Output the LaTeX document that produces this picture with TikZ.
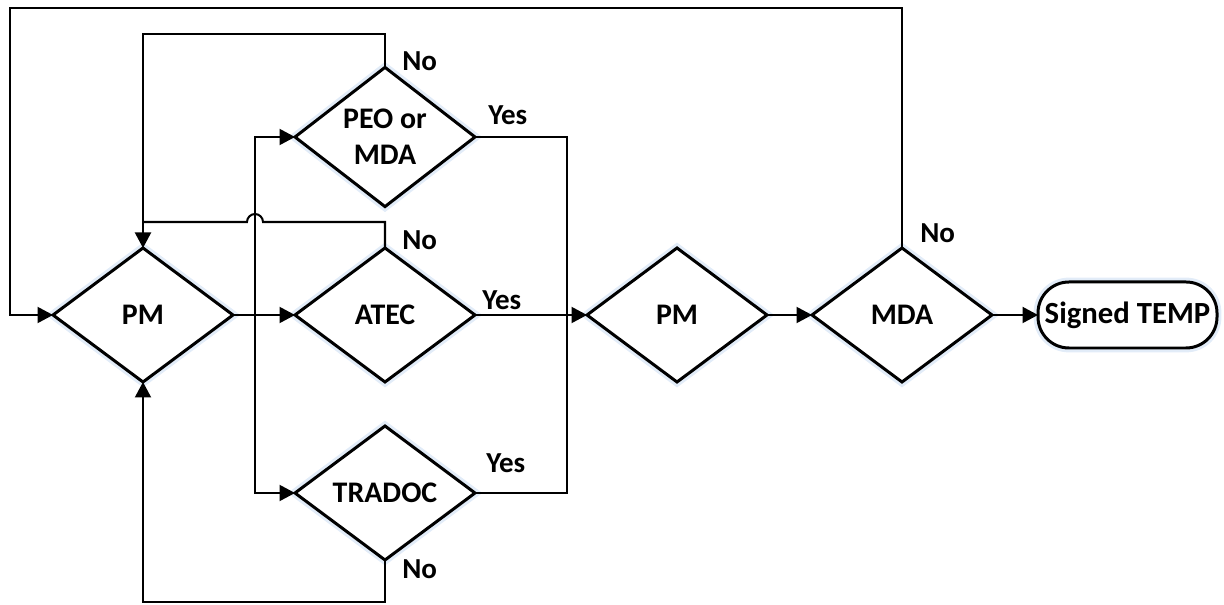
\documentclass[tikz,border=0pt]{standalone}
\usepackage{fontspec}
\setmainfont{Carlito}
\usetikzlibrary{shapes}
\usetikzlibrary{positioning}
\usetikzlibrary{arrows.meta}
\definecolor{glow}{RGB}{226,236,248}
\tikzset{
    decision/.style = {diamond, draw=black, line width=1.7pt, align=center, inner sep=0pt, outer sep=0pt,
                       minimum width=3.6cm, minimum height=2.68cm, fill=white,
                       font=\bfseries\fontsize{17}{20.5}\selectfont,
                       preaction={draw=glow, line width=5pt}},
    terminal/.style = {rectangle, rounded corners=0.62cm, draw=black, line width=1.7pt, outer sep=0pt,
                       minimum width=3.58cm, minimum height=1.32cm, inner xsep=0.05cm, fill=white,
                       font=\bfseries\fontsize{17.5}{21}\selectfont,
                       preaction={draw=glow, line width=5pt}},
    edgen/.style = {-{Triangle[length=0.31cm,width=0.32cm]}, line width=1.15pt},
    linen/.style = {line width=1.15pt},
    lbl/.style = {anchor=base west, inner sep=0pt, font=\bfseries\fontsize{16.5}{20}\selectfont},
}

\begin{document}
\begin{tikzpicture}
\useasboundingbox (0,0) rectangle (24.48,12.10);

\node[decision] at (2.86, 5.80) (pm1) {PM};
\node[decision] at (7.70, 9.36) (peo) {PEO or\\MDA};
\node[decision] at (7.70, 5.80) (atec) {ATEC};
\node[decision] at (7.70, 2.24) (tradoc) {TRADOC};
\node[decision] at (13.54, 5.80) (pm2) {PM};
\node[decision] at (18.04, 5.80) (mda) {MDA};
\node[terminal] at (22.55, 5.80) (temp) {Signed TEMP};
%
\coordinate (split) at (5.10, 5.80);
\coordinate (merge) at (11.34, 5.80);
\coordinate (hop) at (5.10, 7.66);
\coordinate (tl) at (0.20, 11.94);
%
\draw[edgen] (pm1) -- (atec);
\draw[edgen] (split) |- (peo.west);
\draw[edgen] (split) |- (tradoc.west);
\draw[linen] (peo.east) -| (merge);
\draw[linen] (tradoc.east) -| (merge);
\draw[edgen] (atec) -- (pm2);
\draw[edgen] (pm2) -- (mda);
\draw[edgen] (mda) -- (temp);
% loops back
\draw[edgen] (peo.north) -- ++(0,0.66) -| (pm1.north);
\draw[linen] (atec.north) |- ([xshift=0.16cm]hop) arc[start angle=0, end angle=180, radius=0.16cm] -- (pm1.north |- hop);
\draw[edgen] (tradoc.south) -- ++(0,-0.84) -| (pm1.south);
\draw[edgen] (mda.north) |- (tl) |- (pm1.west);
%
\node[lbl] at ([shift={(0.34,-0.06)}]peo.north) {No};
\node[lbl] at ([shift={(0.26,0.24)}]peo.east) {Yes};
\node[lbl] at ([shift={(0.34,-0.04)}]atec.north) {No};
\node[lbl] at ([shift={(0.14,0.10)}]atec.east) {Yes};
\node[lbl] at ([shift={(0.22,0.40)}]tradoc.east) {Yes};
\node[lbl] at ([shift={(0.34,-0.38)}]tradoc.south) {No};
\node[lbl] at ([shift={(0.36,0.10)}]mda.north) {No};

\end{tikzpicture}
\end{document}
